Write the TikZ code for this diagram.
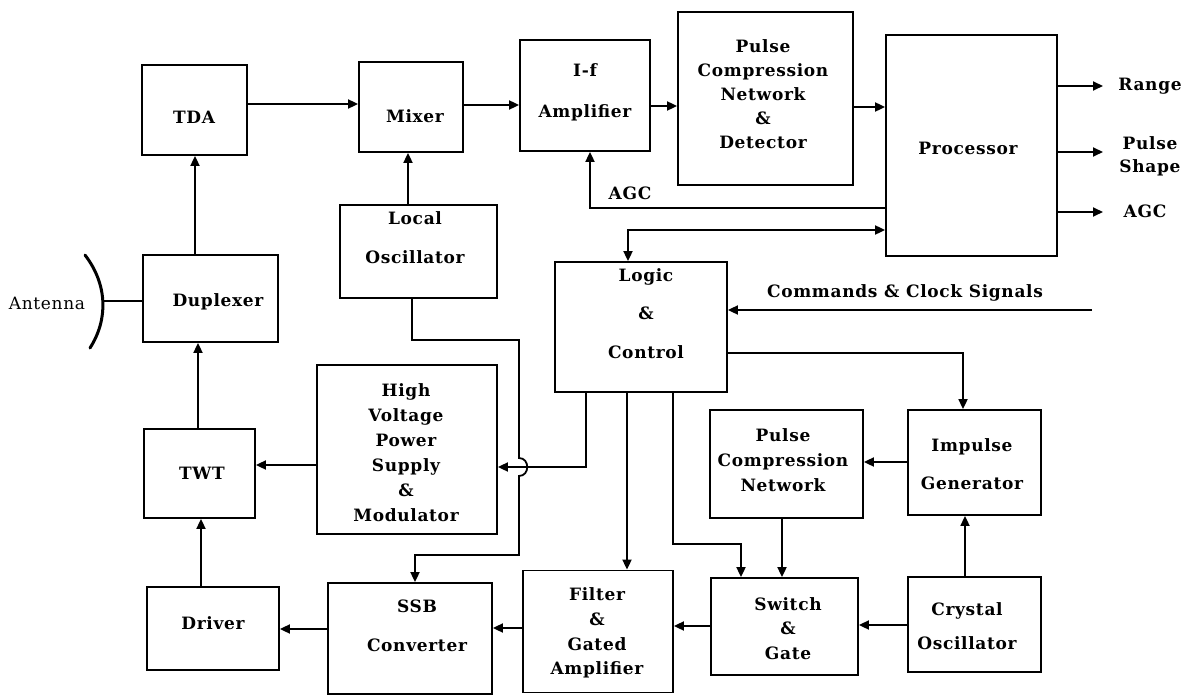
\documentclass[tikz,border=0pt]{standalone}
\usepackage{fontspec}
\setmainfont{DejaVu Serif}[LetterSpace=4]
\usetikzlibrary{arrows.meta}
\begin{document}
\begin{tikzpicture}[x=1pt,y=-1pt,
  box/.style={draw, line width=1.8pt, inner sep=0pt},
  txt/.style={font=\bfseries\fontsize{17}{#1}\selectfont, align=center, inner sep=0pt},
  txt/.default=25,
  wire/.style={line width=1.8pt},
  conn/.style={wire, -{Triangle[length=10pt,width=9pt]}},
  conn2/.style={wire, {Triangle[length=10pt,width=9pt]}-{Triangle[length=10pt,width=9pt]}}]
\useasboundingbox (0,0) rectangle (1185,695);
\fill[white] (0,0) rectangle (1185,695);
% boxes
\node[box, minimum width=105pt, minimum height=90pt]  (tda)   at (194.5,110)  {};
\node[box, minimum width=104pt, minimum height=90pt]  (mix)   at (411,107)    {};
\node[box, minimum width=130pt, minimum height=111pt] (ifa)   at (585,95.5)   {};
\node[box, minimum width=175pt, minimum height=173pt] (pcnd)  at (765.5,98.5) {};
\node[box, minimum width=171pt, minimum height=221pt] (proc)  at (971.5,145.5){};
\node[box, minimum width=135pt, minimum height=87pt]  (dup)   at (210.5,298.5){};
\node[box, minimum width=157pt, minimum height=93pt]  (lo)    at (418.5,251.5){};
\node[box, minimum width=172pt, minimum height=130pt] (logic) at (641,327)    {};
\node[box, minimum width=180pt, minimum height=169pt] (hvps)  at (407,449.5)  {};
\node[box, minimum width=111pt, minimum height=89pt]  (twt)   at (199.5,473.5){};
\node[box, minimum width=153pt, minimum height=108pt] (pcn)   at (786.5,464)  {};
\node[box, minimum width=133pt, minimum height=105pt] (imp)   at (974.5,462.5){};
\node[box, minimum width=132pt, minimum height=83pt]  (drv)   at (213,628.5)  {};
\node[box, minimum width=164pt, minimum height=111pt] (ssb)   at (410,638.5)  {};
\node[box, minimum width=150pt, minimum height=122pt] (filt)  at (598,631.5)  {};
\node[box, minimum width=147pt, minimum height=97pt]  (sw)    at (784.5,626.5){};
\node[box, minimum width=133pt, minimum height=95pt]  (xtal)  at (974.5,624.5){};
% box texts
\node[txt] (tda-t)   at (194,117)   {TDA};
\node[txt] (mix-t)   at (415,116)   {Mixer};
\node[txt=41] (ifa-t) at (585,92.5) {I-f\\Amplifier};
\node[txt=24] (pcnd-t) at (763,94.5) {Pulse\\Compression\\Network\\\&\\Detector};
\node[txt] (proc-t)  at (968,148)   {Processor};
\node[txt] (dup-t)   at (218,302)   {Duplexer};
\node[txt=39] (lo-t) at (415,237.5) {Local\\Oscillator};
\node[txt=38.5] (logic-t) at (646,313.5) {Logic\\\&\\Control};
\node[txt=25] (hvps-t) at (406,452.5) {High\\Voltage\\Power\\Supply\\\&\\Modulator};
\node[txt] (twt-t)   at (202,473)   {TWT};
\node[txt=25] (pcn-t) at (783,460)  {Pulse\\Compression\\Network};
\node[txt=38] (imp-t) at (972,464)  {Impulse\\Generator};
\node[txt] (drv-t)   at (213,623)   {Driver};
\node[txt=39] (ssb-t) at (417,625.5) {SSB\\Converter};
\node[txt=24.7] (filt-t) at (597,633) {Filter\\\&\\Gated\\Amplifier};
\node[txt=24.5] (sw-t) at (788,628.5) {Switch\\\&\\Gate};
\node[txt=34] (xtal-t) at (967,626) {Crystal\\Oscillator};
% free labels
\node[txt, font=\mdseries\fontsize{17}{25}\selectfont] (ant-t) at (47,303) {Antenna};
\node[txt] (agc-t)   at (630,193)   {AGC};
\node[txt] (range-t) at (1150,86)   {Range};
\node[txt=23] (ps-t) at (1150,156.5) {Pulse\\Shape};
\node[txt] (agco-t)  at (1145,211)  {AGC};
\node[txt] (cmd-t)   at (905,293)   {Commands \& Clock Signals};
% antenna
\draw[line width=3pt, line cap=round] (85,255) .. controls (108,285) and (108,320) .. (90,348);
\coordinate (ant) at (102.5,301);
\draw[wire] (ant) -- (ant -| dup.west);
% free ends
\coordinate (rangeend) at (1103,86);
\coordinate (psend) at (1103,152);
\coordinate (agcend) at (1103,212);
\coordinate (cmdsrc) at (1092,310);
% connectors
\draw[conn] ([xshift=-15.5pt]dup.north) coordinate (p) -- (p |- tda.south);
\draw[conn] ([yshift=6pt]tda.east) coordinate (p) -- (p -| mix.west);
\draw[conn] ([yshift=2pt]mix.east) coordinate (p) -- (p -| ifa.west);
\draw[conn] ([yshift=-10.5pt]ifa.east) coordinate (p) -- (p -| pcnd.west);
\draw[conn] ([yshift=-8.5pt]pcnd.east) coordinate (p) -- (p -| proc.west);
\draw[conn] (rangeend -| proc.east) -- (rangeend);
\draw[conn] (psend -| proc.east) -- (psend);
\draw[conn] (agcend -| proc.east) -- (agcend);
\draw[conn] ([yshift=-62.5pt]proc.west) -| ([xshift=5pt]ifa.south);
\draw[conn2] ([xshift=-13pt]logic.north) |- ([yshift=-84.5pt]proc.west);
\draw[conn] (cmdsrc) -- (cmdsrc -| logic.east);
\draw[conn] ([xshift=-10.5pt]lo.north) coordinate (p) -- (p |- mix.south);
\draw[conn] ([xshift=-6.5pt]lo.south) |- (519,340) -- (519,458)
   .. controls (530,458) and (530,476) .. (519,476) -- (519,555) -| ([xshift=5pt]ssb.north);
\draw[conn] ([xshift=-55pt]logic.south) |- ([yshift=-17.5pt]hvps.east);
\draw[conn] ([xshift=-14pt]logic.south) coordinate (p) -- (p |- filt.north);
\draw[conn] ([xshift=32pt]logic.south) -- ++(0,151) -| ([xshift=-43.5pt]sw.north);
\draw[conn] ([xshift=-4.5pt]pcn.south) coordinate (p) -- (p |- sw.north);
\draw[conn] ([yshift=0.5pt]sw.west) coordinate (p) -- (p -| filt.east);
\draw[conn] ([yshift=3.5pt]filt.west) coordinate (p) -- (p -| ssb.east);
\draw[conn] ([yshift=9.5pt]ssb.west) coordinate (p) -- (p -| drv.east);
\draw[conn] ([xshift=-12pt]drv.north) coordinate (p) -- (p |- twt.south);
\draw[conn] ([xshift=-1.5pt]twt.north) coordinate (p) -- (p |- dup.south);
\draw[conn] ([yshift=-15.5pt]hvps.west) coordinate (p) -- (p -| twt.east);
\draw[conn] ([yshift=-26pt]logic.east) -| ([xshift=-11.5pt]imp.north);
\draw[conn] ([yshift=0.5pt]imp.west) coordinate (p) -- (p -| pcn.east);
\draw[conn] ([xshift=-9.5pt]xtal.north) coordinate (p) -- (p |- imp.south);
\draw[conn] ([yshift=-0.5pt]xtal.west) coordinate (p) -- (p -| sw.east);
\end{tikzpicture}
\end{document}
